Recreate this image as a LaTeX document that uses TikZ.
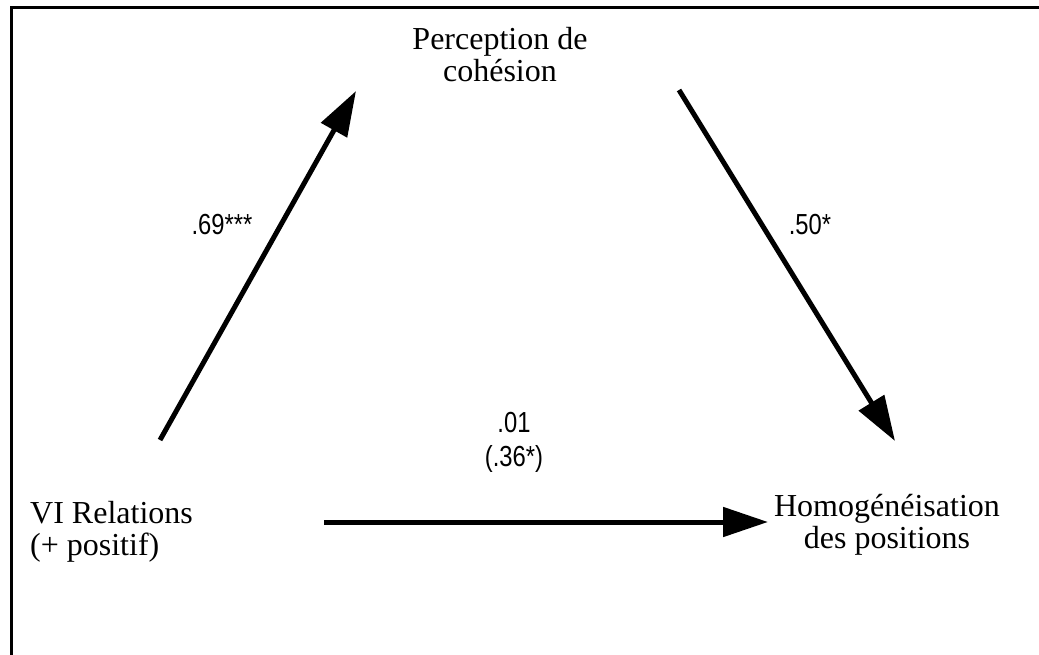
\documentclass[tikz,border=0pt]{standalone}
\usepackage{fontspec}
\setmainfont{Liberation Serif}
\newfontfamily\labelfont[FakeStretch=0.82]{Liberation Sans}
\usetikzlibrary{arrows.meta}
\begin{document}
\begin{tikzpicture}[x=1pt,y=-1pt,
  frame/.style={line width=3pt},
  var/.style={inner sep=0pt,font=\fontsize{32}{32}\selectfont},
  coef/.style={inner sep=0pt,font=\labelfont\fontsize{29}{34}\selectfont},
  arr/.style={line width=5pt,-{Triangle[length=45pt,width=29pt]}}]
\useasboundingbox (0,0) rectangle (1039,655);
% frame (top and left edges)
\coordinate (ftl) at (11,8);
\coordinate (ftr) at (1039,8);
\coordinate (fbl) at (11,655);
\draw[frame] (ftr) -- (ftl) -- (fbl);
% variables (base anchor = baseline of last line)
\node[var,align=center,anchor=base] (pc) at (500,82) {Perception de\\cohésion};
\node[var,align=left,anchor=base west] (vi) at (30,555) {VI Relations\\(+ positif)};
\node[var,align=center,anchor=base] (hp) at (887,548) {Homogénéisation\\des positions};
% arrow end points
\coordinate (a1s) at (160,440);
\coordinate (a1e) at (356,91);
\coordinate (a2s) at (679,90);
\coordinate (a2e) at (895,441);
\coordinate (a3s) at (324,522);
\coordinate (a3e) at (768,522);
\draw[arr] (a1s) -- (a1e);
\draw[arr] (a2s) -- (a2e);
\draw[arr] (a3s) -- (a3e);
% coefficients
\node[coef,anchor=base] (c1) at (222,235) {.69***};
\node[coef,anchor=base] (c2) at (810,235) {.50*};
\node[coef,align=center,anchor=base] (c3) at (514,466) {.01\\(.36*)};
\end{tikzpicture}
\end{document}
